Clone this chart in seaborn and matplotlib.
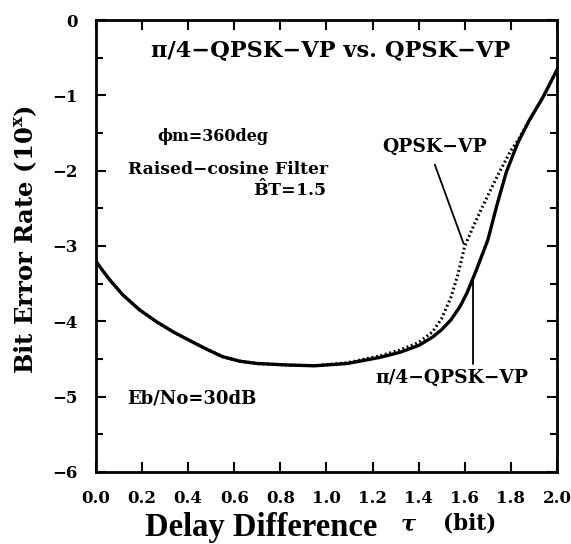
import matplotlib
matplotlib.use("Agg")
import matplotlib.pyplot as plt
import seaborn as sns
import pandas as pd

sns.set_theme(style="ticks")
plt.rcParams['font.family'] = ['DejaVu Serif', 'Liberation Serif']
plt.rcParams['font.weight'] = 'bold'
plt.rcParams['mathtext.fontset'] = 'dejavuserif'
plt.rcParams['text.color'] = 'black'
plt.rcParams['axes.labelcolor'] = 'black'
plt.rcParams['xtick.color'] = 'black'
plt.rcParams['ytick.color'] = 'black'

# pi/4-QPSK-VP (solid)
pi4_x = [0.0, 0.03, 0.06, 0.117, 0.19, 0.265, 0.335, 0.41, 0.48, 0.55, 0.625, 0.70, 0.83,
         0.95, 1.09, 1.23, 1.32, 1.40, 1.46, 1.50, 1.54, 1.58, 1.61, 1.65, 1.70, 1.74, 1.78,
         1.83, 1.88, 1.94, 2.0]
pi4_y = [-3.2, -3.33, -3.45, -3.65, -3.85, -4.01, -4.14, -4.26, -4.37, -4.47, -4.53, -4.56, -4.58,
         -4.59, -4.56, -4.48, -4.41, -4.32, -4.21, -4.11, -3.98, -3.80, -3.62, -3.32, -2.92, -2.45, -2.02,
         -1.63, -1.33, -1.02, -0.66]
# QPSK-VP (dotted)
qpsk_x = [0.0, 0.03, 0.06, 0.117, 0.19, 0.265, 0.335, 0.41, 0.48, 0.55, 0.625, 0.70, 0.83,
          0.95, 1.09, 1.23, 1.32, 1.40, 1.46, 1.50, 1.54, 1.57, 1.60, 1.64, 1.67, 1.74, 1.80, 1.83,
          1.88, 1.94, 2.0]
qpsk_y = [-3.2, -3.33, -3.45, -3.65, -3.85, -4.01, -4.14, -4.26, -4.37, -4.47, -4.53, -4.56, -4.58,
          -4.59, -4.55, -4.46, -4.38, -4.28, -4.14, -3.96, -3.68, -3.38, -3.0, -2.72, -2.52, -2.08, -1.73, -1.60,
          -1.33, -1.02, -0.66]

x_ticks = [0.0, 0.2, 0.4, 0.6, 0.8, 1.0, 1.2, 1.4, 1.6, 1.8, 2.0]
y_ticks = [0, -1, -2, -3, -4, -5, -6]

df1 = pd.DataFrame({"tau": pi4_x, "ber": pi4_y})
df2 = pd.DataFrame({"tau": qpsk_x, "ber": qpsk_y})

fig = plt.figure(figsize=(5.71, 5.44), dpi=100)
ax = fig.add_axes([0.168, 0.1324, 0.8075, 0.8308])

sns.lineplot(data=df2, x="tau", y="ber", ax=ax, color="black", lw=2.2,
             linestyle=(0, (0.6, 0.9)), sort=False)
sns.lineplot(data=df1, x="tau", y="ber", ax=ax, color="black", lw=2.4, sort=False)

ax.set_xlim(0, 2.0)
ax.set_ylim(-6, 0)
ax.set_xticks(x_ticks)
ax.set_xticklabels([f"{v:.1f}" for v in x_ticks], fontsize=12, fontweight='bold')
ax.set_yticks(y_ticks)
ax.set_yticklabels([f"{v}".replace("-", "\u2212") for v in y_ticks], fontsize=12, fontweight='bold')
ax.set_yticks([-0.5, -1.5, -2.5, -3.5, -4.5, -5.5], minor=True)
ax.set_xticks([0.1 * i for i in range(1, 20, 2)], minor=True)
ax.tick_params(axis='both', which='major', direction='in', length=7, width=1.5,
               top=True, right=True, colors='black')
ax.tick_params(axis='x', which='major', pad=13)
ax.tick_params(axis='y', which='major', pad=13)
ax.tick_params(axis='both', which='minor', direction='in', length=0, width=1.5,
               top=True, right=True)
ax.tick_params(axis='y', which='minor', length=5)
for s in ax.spines.values():
    s.set_linewidth(2)
    s.set_color('black')
ax.set_xlabel("")
ax.set_ylabel("")
fig.text(0.045, 0.56, "Bit Error Rate (10$^{\\mathbf{x}}$)", rotation=90, ha='center', va='center',
         fontsize=17.5, fontweight='bold')

ax.text(1.02, -0.4, "π/4\u2212QPSK\u2212VP vs. QPSK\u2212VP", ha='center', va='center',
        fontsize=16.2, fontweight='bold')
ax.text(0.265, -1.55, "ϕm=360deg", ha='left', va='center', fontsize=11.5, fontweight='bold')
ax.text(0.14, -1.98, "Raised\u2212cosine Filter", ha='left', va='center', fontsize=12.3, fontweight='bold')
ax.text(0.68, -2.25, r"$\mathbf{\hat{B}}$T=1.5", ha='left', va='center', fontsize=12.5, fontweight='bold')
ax.text(0.134, -5.02, "Eb/No=30dB", ha='left', va='center', fontsize=13, fontweight='bold')

ax.text(1.47, -1.69, "QPSK\u2212VP", ha='center', va='center', fontsize=13.5, fontweight='bold')
ax.plot([1.47, 1.595], [-1.92, -2.97], color='black', lw=1.3)
ax.text(1.545, -4.75, "π/4\u2212QPSK\u2212VP", ha='center', va='center', fontsize=13.4, fontweight='bold')
ax.plot([1.635, 1.635], [-3.43, -4.56], color='black', lw=1.3)

fig.text(0.458, 0.031, "Delay Difference", ha='center', va='center', fontsize=23.5,
         fontweight='bold', family='Liberation Serif')
fig.text(0.715, 0.036, "τ", ha='center', va='center', fontsize=16, fontstyle='italic',
         family='DejaVu Serif', fontweight='bold')
fig.text(0.822, 0.037, "(bit)", ha='center', va='center', fontsize=15.5, fontweight='bold')

fig.savefig("out.png", dpi=100)
